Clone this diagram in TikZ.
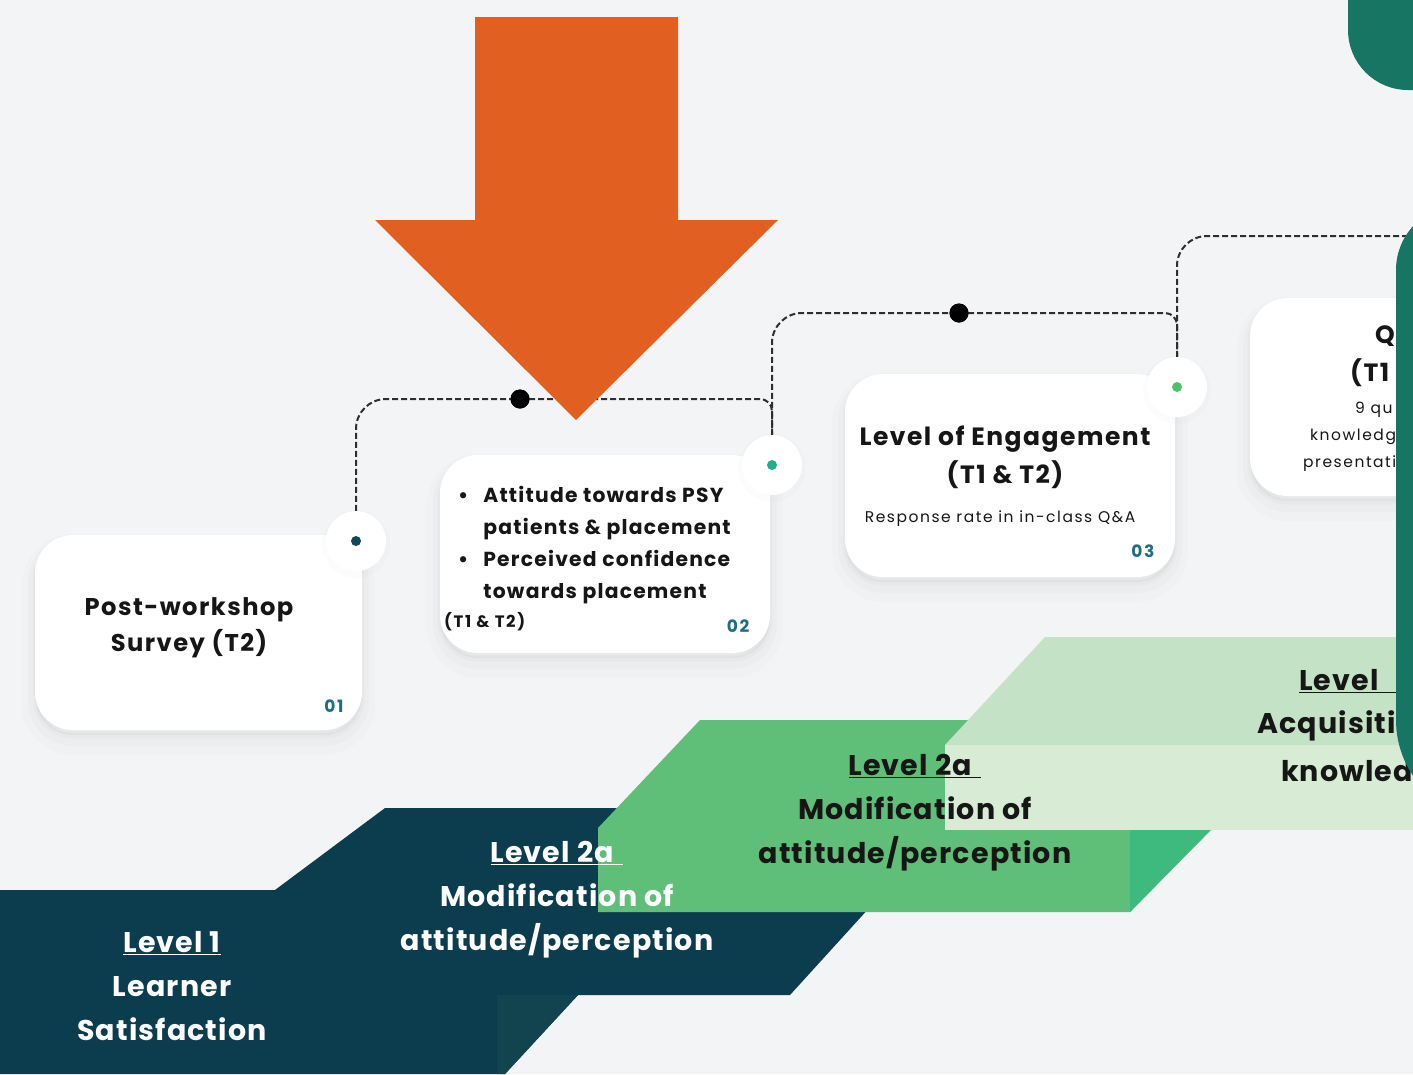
\documentclass[tikz,border=0pt]{standalone}
\usepackage{fontspec}
\setmainfont{Poppins}
\newfontfamily\popw{Poppins}[LetterSpace=6]
\newfontfamily\popws{Poppins}[LetterSpace=4]
\newfontfamily\popww{Poppins}[LetterSpace=10]
\definecolor{bg}{HTML}{F3F4F6}
\definecolor{darkteal}{HTML}{0C3D4F}
\definecolor{darkteal2}{HTML}{12444F}
\definecolor{midgreen}{HTML}{5FBE78}
\definecolor{sidegreen}{HTML}{3EBA7E}
\definecolor{lgtop}{HTML}{C3E2C6}
\definecolor{lgfront}{HTML}{D8EBD4}
\definecolor{orng}{HTML}{E25F22}
\definecolor{bargreen}{HTML}{177563}
\definecolor{numteal}{HTML}{1F6F80}
\definecolor{dotA}{HTML}{0F4A5C}
\definecolor{dotB}{HTML}{22B08C}
\definecolor{dotC}{HTML}{4DC26B}
\definecolor{ink}{HTML}{161616}
\definecolor{lineink}{HTML}{2E2E2E}
\begin{document}
\begin{tikzpicture}[x=1pt,y=-1pt,
  card/.style={fill=white, rounded corners=38pt, inner sep=0pt,
    preaction={draw=black, line width=26pt, opacity=0.010, transform canvas={yshift=-12pt}},
    preaction={draw=black, line width=14pt, opacity=0.014, transform canvas={yshift=-9pt}},
    preaction={draw=black, line width=5pt, opacity=0.02, transform canvas={yshift=-6pt}},
    preaction={fill=black, opacity=0.03, transform canvas={yshift=-5pt}}},
  halo/.style={circle, fill=white, minimum size=60pt, inner sep=0pt,
    preaction={draw=black, line width=8pt, opacity=0.012, transform canvas={yshift=-3pt}}},
  cdot/.style={circle, minimum size=10pt, inner sep=0pt},
  bdot/.style={circle, fill=black, minimum size=19pt, inner sep=0pt},
  conn/.style={draw=lineink, line width=2pt, dash pattern=on 6pt off 3pt},
  cardtitle/.style={text=ink, align=center, font=\popw\bfseries\fontsize{24.2}{36}\selectfont},
  num/.style={text=numteal, font=\popww\bfseries\fontsize{17}{18}\selectfont},
  small/.style={text=ink, font=\popww\fontsize{15.5}{18}\selectfont},
  steptext/.style={align=center, font=\popws\bfseries\fontsize{28.5}{44}\selectfont},
  frag/.style={anchor=west, inner sep=0pt}
]
\clip (0,0) rectangle (1413,1074);
\fill[bg] (0,0) rectangle (1413,1074);

% ---- steps ----
\fill[darkteal] (0,890) -- (275,890) -- (385,808) -- (960,808) -- (790,995) -- (578,995) -- (505,1074) -- (0,1074) -- cycle;
\fill[darkteal2] (497,995) -- (578,995) -- (505,1074) -- (497,1074) -- cycle;
\fill[midgreen] (598,828) -- (700,720) -- (1320,720) -- (1130,912) -- (598,912) -- cycle;
\fill[sidegreen] (1130,912) -- (1130,828) -- (1212,828) -- cycle;
\fill[lgtop] (945,745) -- (1045,637) -- (1413,637) -- (1413,745) -- cycle;
\fill[lgfront] (945,745) rectangle (1413,830);

% ---- cards ----
\node[card, minimum width=327pt, minimum height=195pt] (c1) at (198.5,632.5) {};
\node[card, minimum width=330pt, minimum height=198pt] (c2) at (605,554) {};
\node[card, minimum width=330pt, minimum height=203pt] (c3) at (1010,475.5) {};
\node[card, minimum width=330pt, minimum height=198pt] (c4) at (1415,397) {};

% ---- halos and dots ----
\node[halo] (h1) at (356,541) {};
\node[halo] (h2) at (772,465) {};
\node[halo] (h3) at (1177,387) {};
\node[cdot, fill=dotA] (d1) at (h1) {};
\node[cdot, fill=dotB] (d2) at (h2) {};
\node[cdot, fill=dotC] (d3) at (h3) {};
\coordinate (e3) at (1413,236);

% ---- connectors ----
\node[bdot] (b1) at (520,399) {};
\node[bdot] (b2) at (959,313) {};
\draw[conn, rounded corners=30pt] (h1.north) |- (b1.center);
\draw[conn, rounded corners=12pt] (b1.center) -| (h2.north);
\draw[conn, rounded corners=30pt] (h2.north) |- (b2.center);
\draw[conn, rounded corners=12pt] (b2.center) -| (h3.north);
\draw[conn, rounded corners=30pt] (h3.north) |- (e3);
\node[bdot] at (b1) {};
\node[bdot] at (b2) {};

% ---- card texts ----
\node[cardtitle] (t1) at (189,628) {Post-workshop\\Survey (T2)};
\node[num] (n1) at (334,706) {01};
\node[anchor=base west, inner sep=0pt, text=ink, font=\popw\bfseries\fontsize{20.3}{32}\selectfont] (t2) at (458,502)
  {\begin{tabular}[t]{@{}l@{\hspace{15pt}}l@{}}\textbullet & Attitude towards PSY\\ & patients \& placement\\ \textbullet & Perceived confidence\\ & towards placement\end{tabular}};
\node[anchor=west, inner sep=0pt, text=ink, font=\popww\bfseries\fontsize{16.5}{18}\selectfont] (t2b) at (444,622) {(T1 \& T2)};
\node[num] (n2) at (738,626) {02};
\node[cardtitle, font=\popw\bfseries\fontsize{25}{38}\selectfont] (t3) at (1005,457) {Level of Engagement\\(T1 \& T2)};
\node[small] (t3b) at (1000,519) {Response rate in in-class Q\&A};
\node[num] (n3) at (1143,551) {03};
\node[frag, text=ink, font=\popw\bfseries\fontsize{25}{26}\selectfont] (t4a) at (1375,336) {Q};
\node[frag, text=ink, font=\popw\bfseries\fontsize{25}{26}\selectfont] (t4b) at (1350,373) {(T1};
\node[frag, small] (t4c) at (1355,410) {9 qu};
\node[frag, small] (t4d) at (1310,437) {knowledg};
\node[frag, small] (t4e) at (1303,464) {presentati};

% ---- orange arrow ----
\fill[orng] (475,17) -- (678,17) -- (678,220) -- (778,220) -- (576,420) -- (375,220) -- (475,220) -- cycle;

% ---- step texts ----
\node[steptext, text=white] (s1) at (172,986) {\underline{Level 1}\\Learner\\Satisfaction};
\node[steptext, text=white] (s2) at (557,900) {\underline{Level 2a\,\,}\\Modification of\\attitude/perception};
\node[steptext, text=ink] (s3) at (915,813) {\underline{Level 2a\,\,}\\Modification of\\attitude/perception};
\node[frag, text=ink, font=\popws\bfseries\fontsize{28.5}{30}\selectfont] (s4a) at (1299,681) {\underline{Level\,\,\,\,}};
\node[frag, text=ink, font=\popws\bfseries\fontsize{28.5}{30}\selectfont] (s4b) at (1257,726) {Acquisiti};
\node[frag, text=ink, font=\popws\bfseries\fontsize{28.5}{30}\selectfont] (s4c) at (1281,771) {knowled};

% ---- right-hand green shapes ----
\fill[bargreen, rounded corners=60pt] (1348,-80) rectangle (1520,90);
\fill[bargreen] (1600,205) -- (1461,205) arc[start angle=270, end angle=180, radius=65] -- (1396,720) arc[start angle=180, end angle=90, radius=100] -- (1600,820) -- cycle;
\end{tikzpicture}
\end{document}
